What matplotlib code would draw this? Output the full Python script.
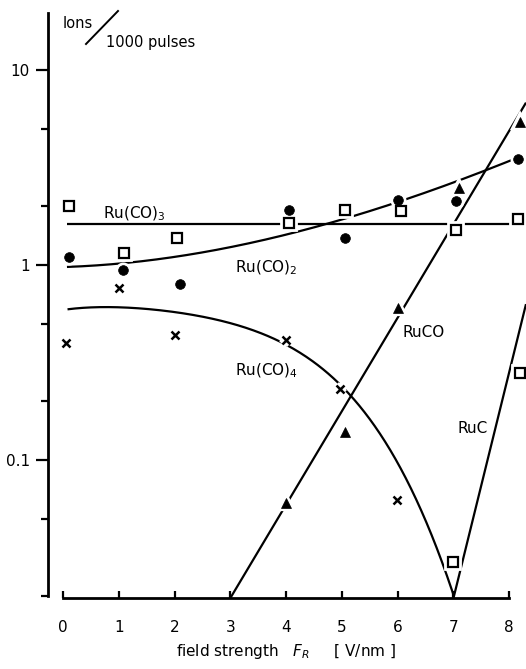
import numpy as np
import matplotlib
matplotlib.use("Agg")
import matplotlib.pyplot as plt
from matplotlib.lines import Line2D

plt.rcParams['font.family'] = ['DejaVu Sans']
plt.rcParams['mathtext.fontset'] = 'dejavusans'

# ---- measured ion yields (ions / 1000 pulses) vs field strength F_R [V/nm] ----
x_co3 = [0.1, 1.1, 2.05, 4.05, 5.05, 6.05, 7.05, 8.15]
y_co3 = [2.0, 1.15, 1.38, 1.64, 1.91, 1.89, 1.51, 1.72]

x_co2 = [0.1, 1.08, 2.1, 4.05, 5.05, 6.0, 7.05, 8.15]
y_co2 = [1.10, 0.94, 0.80, 1.91, 1.38, 2.15, 2.13, 3.5]

x_co = [4.0, 5.05, 6.0, 7.1, 8.2]
y_co = [0.060, 0.139, 0.60, 2.48, 5.4]

x_co4 = [0.05, 1.0, 2.0, 4.0, 4.97, 5.99]
y_co4 = [0.40, 0.76, 0.44, 0.41, 0.232, 0.062]

x_ruc = [7.0, 8.2]
y_ruc = [0.030, 0.28]

# ---- hand-drawn guide curves (nodes) ----
co3_level = 1.62
co3_span = [0.07, 8.02]

co2_curve_x = [0.07, 1.0, 2.0, 3.0, 3.53, 4.74, 5.87, 6.22, 7.0, 8.07]
co2_curve_y = [0.98, 1.01, 1.10, 1.24, 1.34, 1.62, 2.05, 2.15, 2.73, 3.45]

co4_curve_x = [0.08, 1.0, 2.1, 3.05, 3.53, 3.95, 4.43, 5.15, 5.69, 6.28, 6.76, 7.0]
co4_curve_y = [0.595, 0.60, 0.574, 0.49, 0.453, 0.408, 0.326, 0.21, 0.131, 0.070, 0.033, 0.0196]

co_line_x = [3.0, 8.3]
co_line_y = [0.0196, 6.8]

ruc_line_x = [7.0, 8.3]
ruc_line_y = [0.0196, 0.63]

x_ticks = [0, 1, 2, 3, 4, 5, 6, 7, 8]
y_major = [0.1, 1, 10]
y_major_labels = ['0.1', '1', '10']
y_minor = [0.02, 0.05, 0.2, 0.5, 2, 5]


def smooth(xs, ys, deg, n=300):
    """Least-squares polynomial through the nodes in log-y space."""
    xs = np.asarray(xs, float)
    coef = np.polyfit(xs, np.log10(ys), deg)
    xx = np.linspace(xs[0], xs[-1], n)
    return xx, 10 ** np.polyval(coef, xx)


W, H = 526, 669
fig = plt.figure(figsize=(W / 100, H / 100), dpi=100)
ax = fig.add_axes([48 / W, (H - 598) / H, 478 / W, 585 / H])
ax.set_yscale('log')
ax.set_xlim(-0.27, 8.30)
ax.set_ylim(0.0196, 19.6)

lw = 1.6
line_kw = dict(color='black', lw=lw, zorder=2, solid_capstyle='butt')

ax.plot(co3_span, [co3_level, co3_level], **line_kw)
ax.plot(*smooth(co2_curve_x, co2_curve_y, 3), **line_kw)
ax.plot(*smooth(co4_curve_x, co4_curve_y, 4), **line_kw)
ax.plot(co_line_x, co_line_y, **line_kw)
ax.plot(ruc_line_x, ruc_line_y, **line_kw)

series = [
    (x_co3, y_co3, dict(marker='s', ms=6.5, mfc='white', mec='black', mew=1.6)),
    (x_ruc, y_ruc, dict(marker='s', ms=6.5, mfc='white', mec='black', mew=1.6)),
    (x_co2, y_co2, dict(marker='o', ms=7, mfc='black', mec='black', mew=0.5)),
    (x_co, y_co, dict(marker='^', ms=7, mfc='black', mec='black', mew=0.5)),
    (x_co4, y_co4, dict(marker='x', ms=5.5, mfc='black', mec='black', mew=1.8)),
]
for xs, ys, kw in series:
    halo = dict(kw)
    halo.update(mfc='white', mec='white', mew=kw['mew'] + 4)
    ax.plot(xs, ys, ls='none', zorder=3, clip_on=False, **halo)
    ax.plot(xs, ys, ls='none', zorder=4, clip_on=False, **kw)

# curve labels
fs = 11
ax.text(0.72, 1.74, 'Ru(CO)$_3$', fontsize=fs, va='baseline', ha='left')
ax.text(3.08, 0.92, 'Ru(CO)$_2$', fontsize=fs, va='baseline', ha='left')
ax.text(3.08, 0.272, 'Ru(CO)$_4$', fontsize=fs, va='baseline', ha='left')
ax.text(6.08, 0.427, 'RuCO', fontsize=fs, va='baseline', ha='left')
ax.text(7.07, 0.137, 'RuC', fontsize=fs, va='baseline', ha='left')

# axes styling
for s in ('top', 'right'):
    ax.spines[s].set_visible(False)
ax.spines['left'].set_linewidth(2)
ax.spines['bottom'].set_linewidth(2)
ax.spines['left'].set_bounds(0.02, 19.6)
ax.spines['bottom'].set_bounds(0, 8)

ax.set_xticks(x_ticks)
ax.set_xticklabels([str(v) for v in x_ticks])
ax.tick_params(axis='x', direction='in', length=5, width=1.6, pad=16,
               labelsize=11)
ax.set_yticks(y_major)
ax.set_yticklabels(y_major_labels)
ax.set_yticks(y_minor, minor=True)
ax.yaxis.set_minor_formatter(matplotlib.ticker.NullFormatter())
ax.tick_params(axis='y', which='major', direction='out', length=9,
               width=1.6, pad=4, labelsize=11)
ax.tick_params(axis='y', which='minor', direction='out', length=5,
               width=1.6)

ax.set_xlabel('field strength   $F_R$     [ V/nm ]', fontsize=11)
ax.xaxis.set_label_coords(0.498, -0.075)

# unit annotation at the top of the y axis
fig.text(63 / W, (H - 28) / H, 'Ions', fontsize=10.5, va='baseline')
fig.text(106 / W, (H - 47) / H, '1000 pulses', fontsize=10.5, va='baseline')
fig.add_artist(Line2D([86 / W, 118 / W], [(H - 44) / H, (H - 11) / H],
                      color='black', lw=1.4, transform=fig.transFigure))

fig.savefig('out.png', dpi=100, facecolor='white')
